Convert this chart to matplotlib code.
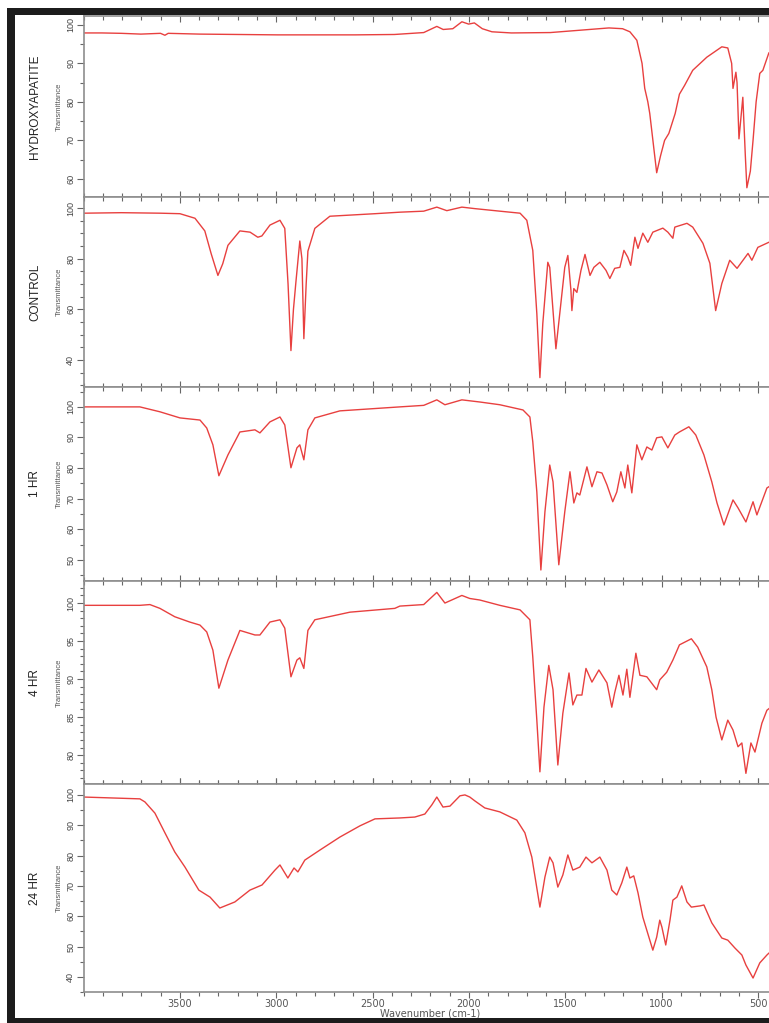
#!/usr/bin/env python3
"""Stacked FTIR spectra: hydroxyapatite, control and 1/4/24 hr samples."""

import matplotlib
matplotlib.use("Agg")
import matplotlib.pyplot as plt
import matplotlib.ticker as ticker
from matplotlib.patches import Rectangle

# ---- data ----
labels = ["HYDROXYAPATITE", "CONTROL", "1 HR", "4 HR", "24 HR"]

wn_hap = [4000, 3905, 3804, 3703, 3601, 3578, 3561, 3399, 2994, 2590, 2387, 2235, 2167, 2134,
          2084, 2037, 2002, 1972, 1931, 1881, 1780, 1578, 1426, 1274, 1203, 1165, 1129, 1102,
          1088, 1072, 1062, 1041, 1026, 1006, 985, 963, 930, 908, 881, 839, 766, 688, 657,
          637, 630, 615, 609, 599, 579, 566, 558, 540, 526, 510, 491, 475, 444]
t_hap = [97.9, 97.9, 97.8, 97.6, 97.8, 97.3, 97.8, 97.6, 97.4, 97.4, 97.5, 98.0, 99.6, 98.8,
         99.0, 100.8, 100.2, 100.5, 99.0, 98.2, 97.9, 98.0, 98.6, 99.2, 99.0, 98.2, 96.0, 90.0,
         83.5, 80.0, 77.0, 68.0, 61.6, 66.0, 70.0, 71.8, 77.0, 82.0, 84.3, 88.2, 91.6, 94.3, 94.0,
         90.0, 83.5, 87.7, 85.0, 70.4, 81.2, 66.0, 57.7, 62.0, 70.0, 80.0, 87.4, 88.2, 92.7]

wn_ctrl = [4000, 3804, 3601, 3500, 3422, 3371, 3338, 3303, 3278, 3251, 3189, 3136, 3096, 3075,
           3033, 2981, 2956, 2939, 2924, 2911, 2898, 2878, 2867, 2857, 2845, 2836, 2800, 2722,
           2488, 2359, 2235, 2167, 2115, 2037, 1969, 1840, 1735, 1700, 1669, 1648, 1632, 1617,
           1591, 1581, 1549, 1529, 1503, 1487, 1471, 1466, 1456, 1440, 1419, 1398, 1372, 1352,
           1321, 1289, 1269, 1244, 1217, 1196, 1176, 1161, 1139, 1123, 1098, 1072, 1046, 994,
           968, 942, 932, 869, 839, 786, 750, 720, 688, 647, 609, 552, 532, 501, 444]
t_ctrl = [98.0, 98.2, 98.0, 97.8, 96.0, 91.0, 82.0, 73.4, 78.0, 85.3, 91.0, 90.5, 88.5, 89.0,
          93.3, 95.2, 92.0, 70.0, 43.7, 60.0, 71.0, 87.0, 80.0, 48.4, 70.0, 83.0, 92.0, 96.8,
          97.8, 98.4, 98.8, 100.4, 99.0, 100.4, 99.8, 98.8, 98.0, 95.2, 83.3, 58.3, 33.0, 54.4,
          78.6, 76.6, 44.4, 58.3, 76.6, 81.3, 67.5, 59.5, 68.2, 66.7, 75.4, 81.7, 73.4, 76.6,
          78.6, 75.4, 72.2, 76.2, 76.6, 83.3, 80.6, 77.4, 88.5, 84.1, 90.1, 86.5, 90.5, 92.1,
          90.5, 88.1, 92.5, 94.0, 92.5, 86.1, 78.2, 59.5, 70.2, 79.4, 76.2, 82.1, 79.4, 84.5, 86.5]

wn_1hr = [4000, 3708, 3604, 3500, 3396, 3361, 3329, 3298, 3251, 3189, 3111, 3085, 3033, 2981,
          2956, 2924, 2893, 2878, 2857, 2836, 2800, 2670, 2359, 2235, 2167, 2125, 2037, 1944,
          1840, 1720, 1684, 1669, 1648, 1627, 1606, 1581, 1564, 1534, 1503, 1476, 1456, 1440,
          1425, 1388, 1362, 1336, 1310, 1284, 1254, 1233, 1212, 1191, 1176, 1155, 1129, 1103,
          1077, 1051, 1026, 999, 968, 932, 908, 859, 823, 781, 740, 713, 677, 630, 604, 563,
          526, 506, 454, 444]
t_1hr = [100.0, 100.0, 98.4, 96.4, 95.7, 93.1, 87.6, 77.5, 84.3, 91.8, 92.5, 91.5, 95.1, 96.7,
         94.1, 80.1, 86.6, 87.6, 82.7, 92.5, 96.4, 98.7, 100.0, 100.5, 102.3, 100.7, 102.3, 101.6,
         100.7, 99.0, 96.7, 88.6, 72.2, 46.7, 65.7, 81.0, 75.5, 48.4, 65.7, 78.8, 68.6, 71.9,
         71.2, 80.4, 73.9, 78.8, 78.4, 74.5, 69.0, 72.2, 78.8, 73.5, 81.0, 71.9, 87.6, 82.7,
         86.9, 85.9, 89.9, 90.2, 86.6, 90.8, 91.8, 93.5, 90.8, 84.3, 75.5, 68.6, 61.4, 69.6, 67.0,
         62.4, 69.0, 64.7, 73.5, 73.9]

wn_4hr = [4000, 3708, 3656, 3604, 3527, 3449, 3396, 3361, 3329, 3298, 3251, 3189, 3111, 3085,
          3033, 2981, 2956, 2924, 2893, 2878, 2857, 2836, 2800, 2618, 2385, 2359, 2235, 2167,
          2125, 2037, 1996, 1944, 1840, 1735, 1684, 1669, 1648, 1632, 1611, 1586, 1564, 1539,
          1513, 1481, 1461, 1440, 1414, 1393, 1362, 1326, 1284, 1259, 1244, 1222, 1201, 1181,
          1165, 1134, 1113, 1077, 1026, 1010, 974, 942, 908, 846, 813, 766, 740, 718, 688, 657,
          630, 604, 584, 563, 537, 516, 480, 454, 444]
t_4hr = [99.7, 99.7, 99.8, 99.3, 98.2, 97.5, 97.1, 96.2, 93.8, 88.8, 92.5, 96.4, 95.8, 95.8,
         97.5, 97.8, 96.7, 90.3, 92.5, 92.8, 91.4, 96.4, 97.8, 98.8, 99.3, 99.6, 99.8, 101.4,
         100.0, 101.0, 100.6, 100.4, 99.7, 99.1, 97.8, 92.9, 84.6, 77.8, 86.3, 91.8, 88.6, 78.7,
         85.5, 90.8, 86.6, 87.9, 87.9, 91.4, 89.6, 91.2, 89.5, 86.3, 88.2, 90.5, 87.9, 91.3,
         87.6, 93.4, 90.5, 90.3, 88.6, 89.9, 90.9, 92.5, 94.5, 95.3, 94.2, 91.6, 88.6, 85.0, 82.0,
         84.6, 83.3, 81.1, 81.6, 77.6, 81.6, 80.4, 84.2, 85.9, 86.1]

wn_24hr = [4000, 3708, 3682, 3630, 3578, 3527, 3474, 3402, 3344, 3293, 3215, 3137, 3074, 3007,
           2981, 2940, 2908, 2888, 2852, 2774, 2670, 2566, 2488, 2359, 2281, 2229, 2193, 2167,
           2135, 2099, 2047, 2021, 1996, 1969, 1918, 1840, 1752, 1710, 1674, 1632, 1606, 1581,
           1564, 1539, 1513, 1487, 1461, 1425, 1393, 1362, 1321, 1284, 1259, 1233, 1207, 1181,
           1165, 1145, 1123, 1098, 1046, 1026, 1010, 999, 979, 957, 942, 921, 896, 869, 846,
           801, 781, 740, 688, 657, 620, 584, 563, 526, 491, 454, 444]
t_24hr = [99.3, 98.7, 97.7, 94.0, 87.5, 81.2, 76.2, 68.6, 66.3, 62.7, 64.7, 68.6, 70.3, 75.2,
          76.9, 72.6, 75.9, 74.6, 78.5, 81.8, 86.1, 89.8, 92.1, 92.4, 92.7, 93.7, 96.7, 99.3,
          96.0, 96.3, 99.7, 100.0, 99.3, 98.0, 95.7, 94.4, 91.7, 87.5, 79.5, 63.0, 72.9, 79.5,
          77.6, 69.6, 73.6, 80.2, 75.2, 76.2, 79.5, 77.6, 79.5, 75.2, 68.6, 67.0, 71.0, 76.2,
          72.6, 73.3, 67.7, 59.7, 48.8, 53.1, 58.7, 56.4, 50.5, 58.7, 65.3, 66.3, 70.0, 64.7, 63.0,
          63.4, 63.7, 57.8, 52.8, 52.1, 49.5, 47.2, 43.9, 39.6, 44.6, 47.2, 47.8]

wavenumbers = [wn_hap, wn_ctrl, wn_1hr, wn_4hr, wn_24hr]
transmittance = [t_hap, t_ctrl, t_1hr, t_4hr, t_24hr]

y_limits = [(55.3, 102.3), (29.3, 104.4), (43.1, 106.5), (76.2, 102.9), (35.0, 103.6)]
y_major = [[60, 70, 80, 90, 100], [40, 60, 80, 100], [50, 60, 70, 80, 90, 100],
           [80, 85, 90, 95, 100], [40, 50, 60, 70, 80, 90, 100]]
y_minor_step = [5, 5, 5, 1, 5]
x_ticks = [3500, 3000, 2500, 2000, 1500, 1000, 500]

# panel edges in pixels from the top of the image
panel_px = [(16, 197), (197, 387), (387, 581), (581, 784), (784, 992)]

W, H = 769, 1023
LINE = "#e8403f"
SPINE = "#8e8e8e"
SANS = ["Liberation Sans", "DejaVu Sans"]


def main():
    fig = plt.figure(figsize=(W / 100, H / 100), dpi=100)
    fig.patch.set_facecolor("white")

    # 0.1927 px per cm-1; the axes run out to 400 cm-1, past the cropped right edge
    left = 83.6 / W
    width = (4000 - 400) * 0.1927 / W

    for i, (top_px, bot_px) in enumerate(panel_px):
        bottom = 1 - bot_px / H
        height = (bot_px - top_px) / H
        ax = fig.add_axes([left, bottom, width, height])
        ax.plot(wavenumbers[i], transmittance[i], color=LINE, linewidth=1.0)

        ax.set_xlim(4000, 400)
        ax.set_ylim(*y_limits[i])
        ax.xaxis.set_major_locator(ticker.FixedLocator(x_ticks))
        ax.xaxis.set_minor_locator(ticker.MultipleLocator(100))
        ax.yaxis.set_major_locator(ticker.FixedLocator(y_major[i]))
        ax.yaxis.set_minor_locator(ticker.MultipleLocator(y_minor_step[i]))

        for s in ax.spines.values():
            s.set_color(SPINE)
            s.set_linewidth(1.2)

        ax.tick_params(axis="y", which="major", direction="out", length=5, width=0.8,
                       color="#666666", labelsize=6.5, labelcolor="#444444", pad=1,
                       labelrotation=90)
        ax.tick_params(axis="y", which="minor", direction="out", length=3, width=0.8,
                       color="#666666")
        for lab in ax.get_yticklabels():
            lab.set_family(SANS)
            lab.set_va("center")

        last = i == len(panel_px) - 1
        ax.tick_params(axis="x", which="both", top=True, bottom=True, width=0.8,
                       color="#666666", direction="out" if last else "in",
                       labelbottom=last, labelsize=7, labelcolor="#555555", pad=1)
        ax.tick_params(axis="x", which="major", length=4)
        ax.tick_params(axis="x", which="minor", length=3)

        yc = 1 - (top_px + bot_px) / 2 / H
        fig.text(59 / W, yc, "Transmittance", rotation=90, ha="center", va="center",
                 fontsize=5.5, color="#555555", family=SANS)
        fig.text(35 / W, yc, labels[i], rotation=90, ha="center", va="center",
                 fontsize=8.5, color="#222222", family=SANS)

    fig.text(430 / W, 1 - 1013 / H, "Wavenumber (cm-1)", ha="center", va="center",
             fontsize=7, color="#555555")

    # dark frame around the figure (right side cut off)
    frame = "#1c1c1c"
    fig.patches.append(Rectangle((7 / W, 0), 8 / W, 1 - 8 / H, transform=fig.transFigure,
                                 facecolor=frame, edgecolor="none", zorder=10))
    fig.patches.append(Rectangle((7 / W, 1 - 15 / H), 1, 7 / H, transform=fig.transFigure,
                                 facecolor=frame, edgecolor="none", zorder=10))
    fig.patches.append(Rectangle((7 / W, 0), 1, 5 / H, transform=fig.transFigure,
                                 facecolor=frame, edgecolor="none", zorder=10))

    fig.savefig("out.png", dpi=100, facecolor=fig.get_facecolor())
    plt.close(fig)


if __name__ == "__main__":
    main()
